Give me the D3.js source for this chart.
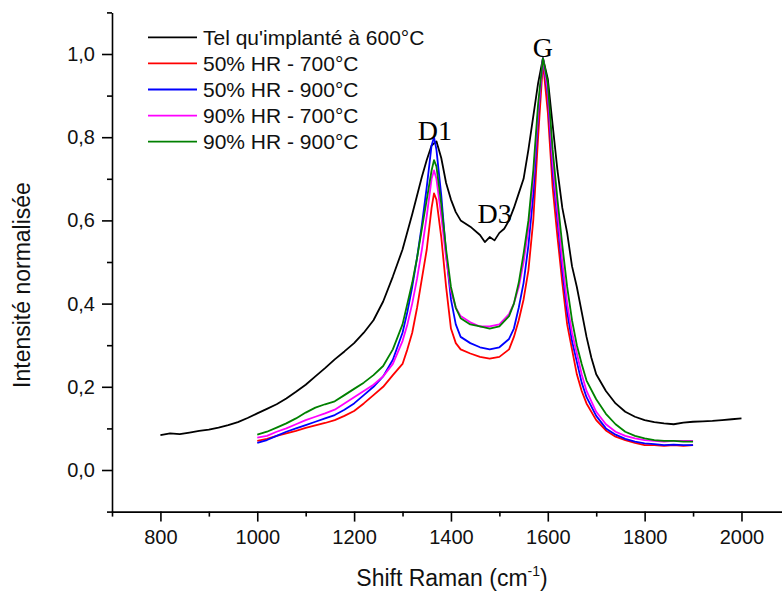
<!DOCTYPE html>
<html><head><meta charset="utf-8">
<script src="https://cdn.jsdelivr.net/npm/d3@7"></script>
<style>
body{margin:0;background:#fff;}
svg{display:block;font-family:"Liberation Sans",Arial,sans-serif;}
</style></head>
<body><svg id="c" width="782" height="591"></svg>
<script>
// ---- data ----
const seriesNames = ["Tel qu'implanté à 600°C","50% HR - 700°C","50% HR - 900°C","90% HR - 700°C","90% HR - 900°C"];
const seriesColors = ["#000000","#ff0000","#0000ff","#ff00ff","#008000"];

const blackX = [800,820,840,860,880,900,920,940,960,980,1000,1020,1040,1060,1080,1100,1120,1140,1160,1180,1200,1220,1240,1260,1280,1300,1320,1340,1350,1360,1370,1380,1390,1400,1410,1420,1440,1460,1470,1480,1490,1500,1510,1520,1530,1540,1550,1560,1570,1580,1590,1600,1610,1620,1630,1640,1650,1660,1670,1680,1690,1700,1720,1740,1760,1780,1800,1820,1840,1860,1880,1900,1920,1940,1960,1980,2000];
const blackY = [0.084,0.088,0.086,0.090,0.094,0.097,0.102,0.108,0.115,0.125,0.136,0.147,0.158,0.172,0.188,0.205,0.225,0.245,0.266,0.285,0.305,0.330,0.360,0.405,0.465,0.530,0.615,0.705,0.745,0.780,0.790,0.750,0.690,0.650,0.620,0.600,0.585,0.565,0.548,0.560,0.552,0.570,0.580,0.600,0.630,0.665,0.700,0.770,0.850,0.930,0.990,0.940,0.830,0.720,0.630,0.570,0.490,0.440,0.380,0.320,0.270,0.230,0.190,0.160,0.140,0.128,0.120,0.115,0.112,0.110,0.114,0.116,0.117,0.118,0.120,0.122,0.124];

const colX = [1000,1020,1040,1060,1080,1100,1120,1140,1160,1180,1200,1220,1240,1260,1280,1300,1310,1320,1330,1340,1350,1360,1365,1370,1380,1390,1400,1410,1420,1440,1460,1480,1500,1520,1530,1540,1550,1560,1570,1580,1590,1600,1610,1620,1630,1640,1650,1660,1670,1680,1700,1720,1740,1760,1780,1800,1820,1840,1860,1880,1900];
const redY = [0.070,0.075,0.082,0.088,0.094,0.101,0.107,0.113,0.120,0.130,0.142,0.160,0.180,0.200,0.228,0.255,0.290,0.330,0.390,0.460,0.530,0.630,0.665,0.650,0.560,0.440,0.340,0.305,0.290,0.280,0.272,0.268,0.272,0.290,0.320,0.360,0.410,0.480,0.600,0.800,0.980,0.860,0.680,0.560,0.450,0.350,0.290,0.230,0.190,0.160,0.120,0.095,0.080,0.072,0.065,0.060,0.060,0.058,0.060,0.058,0.060];
const blueY = [0.065,0.072,0.082,0.092,0.100,0.108,0.116,0.124,0.132,0.145,0.160,0.180,0.200,0.225,0.265,0.330,0.380,0.440,0.510,0.590,0.680,0.780,0.800,0.770,0.660,0.520,0.410,0.350,0.320,0.305,0.295,0.290,0.295,0.315,0.340,0.390,0.450,0.540,0.660,0.850,0.990,0.900,0.720,0.600,0.480,0.380,0.310,0.260,0.210,0.175,0.130,0.100,0.085,0.075,0.068,0.064,0.062,0.060,0.061,0.060,0.060];
const magentaY = [0.078,0.082,0.092,0.100,0.110,0.120,0.128,0.136,0.145,0.160,0.175,0.190,0.205,0.225,0.255,0.310,0.350,0.400,0.460,0.530,0.610,0.700,0.720,0.700,0.610,0.510,0.430,0.390,0.370,0.355,0.345,0.345,0.350,0.375,0.400,0.440,0.500,0.580,0.700,0.860,0.990,0.910,0.740,0.620,0.500,0.400,0.330,0.280,0.230,0.190,0.140,0.110,0.092,0.082,0.076,0.072,0.070,0.068,0.070,0.070,0.070];
const greenY = [0.085,0.092,0.102,0.112,0.124,0.138,0.150,0.158,0.165,0.180,0.195,0.210,0.228,0.250,0.290,0.350,0.400,0.450,0.510,0.580,0.650,0.720,0.745,0.730,0.640,0.530,0.440,0.390,0.365,0.350,0.345,0.340,0.345,0.370,0.400,0.450,0.520,0.600,0.720,0.880,0.990,0.930,0.770,0.650,0.540,0.440,0.360,0.300,0.255,0.215,0.170,0.135,0.110,0.092,0.082,0.076,0.072,0.070,0.070,0.068,0.068];

const xMajorTicks = [800,1000,1200,1400,1600,1800,2000];
const xMinorTicks = [700,900,1100,1300,1500,1700,1900];
const yMajorTicks = [0,0.2,0.4,0.6,0.8,1.0];
const yTickLabels = ["0,0","0,2","0,4","0,6","0,8","1,0"];
const yMinorTicks = [-0.1,0.1,0.3,0.5,0.7,0.9,1.1];

const peakLabels = ["D1","D3","G"];
const peakX = [1367,1490,1590];
const peakY = [0.793,0.593,0.993];

// ---- chart ----
const svg = d3.select("#c");
const x = d3.scaleLinear().domain([700,2100]).range([112,789.9]);
const y = d3.scaleLinear().domain([-0.1,1.1]).range([511.6,12.4]);

const series = [
  {xs: blackX, ys: blackY},
  {xs: colX, ys: redY},
  {xs: colX, ys: blueY},
  {xs: colX, ys: magentaY},
  {xs: colX, ys: greenY}
];

const line = d3.line().x(d=>x(d[0])).y(d=>y(d[1]));
series.forEach((s,i)=>{
  const pts = s.xs.map((v,j)=>[v,s.ys[j]]);
  svg.append("path").datum(pts).attr("d",line)
    .attr("fill","none").attr("stroke",seriesColors[i]).attr("stroke-width",1.8)
    .attr("stroke-linejoin","round");
});

// axes
const axFont = 20;
const gx = svg.append("g").attr("transform",`translate(0,${y(-0.1)})`);
gx.call(d3.axisBottom(x).tickValues(xMajorTicks).tickSize(10).tickPadding(8).tickSizeOuter(0).tickFormat(d3.format("d")));
const gxm = svg.append("g").attr("transform",`translate(0,${y(-0.1)})`);
gxm.call(d3.axisBottom(x).tickValues(xMinorTicks).tickSize(5).tickSizeOuter(0).tickFormat(""));
gxm.select(".domain").remove();

const gy = svg.append("g").attr("transform",`translate(${x(700)},0)`);
gy.call(d3.axisLeft(y).tickValues(yMajorTicks).tickSize(10).tickPadding(7).tickSizeOuter(0).tickFormat((d,i)=>yTickLabels[i]));
const gym = svg.append("g").attr("transform",`translate(${x(700)},0)`);
gym.call(d3.axisLeft(y).tickValues(yMinorTicks).tickSize(5).tickSizeOuter(0).tickFormat(""));
gym.select(".domain").remove();

svg.selectAll(".domain, .tick line").attr("stroke","#000").attr("stroke-width",1.6);
svg.selectAll(".tick text").attr("font-size",axFont).attr("font-family","Liberation Sans, Arial, sans-serif").attr("fill","#111");

// axis titles
const xt = svg.append("text").attr("x",452).attr("y",586).attr("text-anchor","middle")
  .attr("font-size",23).attr("fill","#111");
xt.append("tspan").text("Shift Raman (cm");
xt.append("tspan").attr("font-size",14).attr("dy",-10).text("-1");
xt.append("tspan").attr("dy",10).text(")");

svg.append("text").attr("transform","translate(30,285) rotate(-90)")
  .attr("text-anchor","middle").attr("font-size",23).attr("fill","#111")
  .text("Intensité normalisée");

// legend
const lg = svg.append("g");
seriesNames.forEach((n,i)=>{
  const yy = 37.3 + i*26.1;
  lg.append("line").attr("x1",148).attr("x2",197).attr("y1",yy).attr("y2",yy)
    .attr("stroke",seriesColors[i]).attr("stroke-width",1.8);
  lg.append("text").attr("x",203).attr("y",yy).attr("dy","0.36em")
    .attr("font-size",21).attr("fill","#111").text(n);
});

// peak labels
peakLabels.forEach((t,i)=>{
  svg.append("text").attr("x",x(peakX[i])).attr("y",y(peakY[i]))
    .attr("text-anchor","middle")
    .style("font-family","'Liberation Serif','Times New Roman',serif")
    .attr("font-size",28).attr("fill","#000").text(t);
});
</script></body></html>
